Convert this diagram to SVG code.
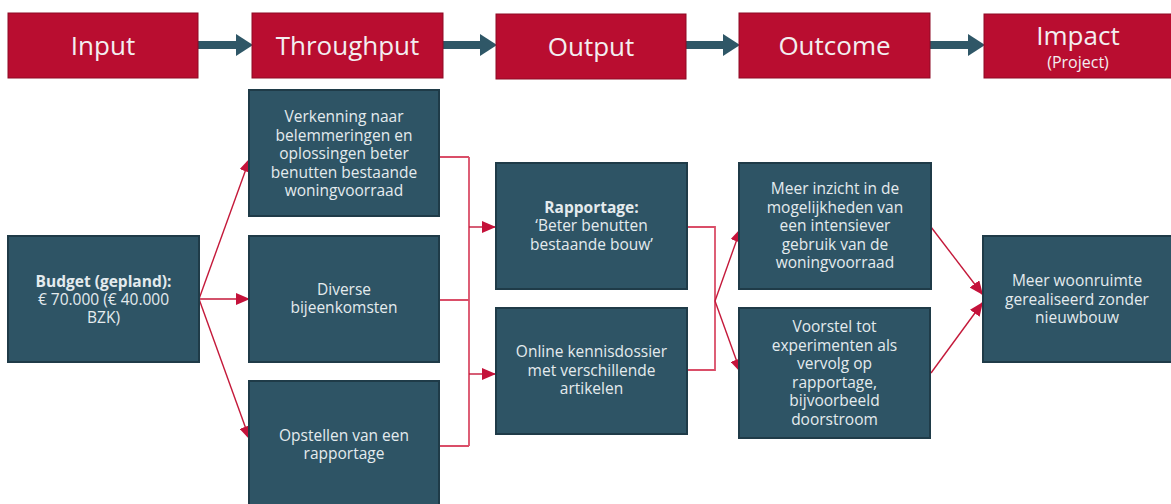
<svg xmlns="http://www.w3.org/2000/svg" width="1171" height="504" viewBox="0 0 1171 504">
<style>
.hdr{fill:#b90d30;stroke:#8e0a24;stroke-width:1}
.box{fill:#2e5465;stroke:#1f3b48;stroke-width:2}
.ht{font-family:"Open Sans","Liberation Sans",sans-serif;font-size:26px;fill:#f3eef0;text-anchor:middle}
.hs{font-family:"Open Sans","Liberation Sans",sans-serif;font-size:16px;fill:#f3eef0;text-anchor:middle}
.bt{font-family:"Open Sans","Liberation Sans",sans-serif;font-size:15.5px;fill:#e4ebee;text-anchor:middle}
.b{font-weight:bold}
.flow{stroke:#2f5767;stroke-width:8;fill:none}
.rl{stroke:#c4193a;stroke-width:1.4;fill:none}
.br{stroke:#da4e68;stroke-width:1.8;fill:none}
</style>
<defs>
<marker id="big" markerUnits="userSpaceOnUse" markerWidth="17" markerHeight="22" refX="0" refY="11" orient="auto">
<path d="M0,0 L17,11 L0,22 z" fill="#2f5767"/>
</marker>
<marker id="ah" markerUnits="userSpaceOnUse" markerWidth="14" markerHeight="12" refX="14" refY="6" orient="auto">
<path d="M0,0 L14,6 L0,12 z" fill="#c4123a"/>
</marker>
</defs>

<g id="connectors">
<path class="flow" d="M198,45 H236" marker-end="url(#big)"/>
<path class="flow" d="M443,45 H480" marker-end="url(#big)"/>
<path class="flow" d="M686,45 H723" marker-end="url(#big)"/>
<path class="flow" d="M930,45 H968" marker-end="url(#big)"/>

<path class="rl" d="M199,299 L250,158" marker-end="url(#ah)"/>
<path class="rl" d="M199,299 L250,299" marker-end="url(#ah)"/>
<path class="rl" d="M199,299 L250,440" marker-end="url(#ah)"/>

<path class="br" d="M439,157 H469 M439,300 H469 M439,446 H469 M469,157 V446"/>
<path class="rl" d="M469,227 H496" marker-end="url(#ah)"/>
<path class="rl" d="M469,374 H496" marker-end="url(#ah)"/>

<path class="br" d="M687,227 H715 V370 H687"/>
<path class="rl" d="M715,301 L741,228" marker-end="url(#ah)"/>
<path class="rl" d="M715,301 L741,373" marker-end="url(#ah)"/>

<path class="rl" d="M931,227 L983,295" marker-end="url(#ah)"/>
<path class="rl" d="M931,373 L983,302" marker-end="url(#ah)"/>
</g>

<g id="input"><rect class="hdr" x="8" y="13" width="190" height="65"/><text class="ht" x="103" y="55">Input</text></g>
<g id="throughput"><rect class="hdr" x="252" y="13" width="191" height="65"/><text class="ht" x="347.5" y="55">Throughput</text></g>
<g id="output"><rect class="hdr" x="496" y="14" width="190" height="65"/><text class="ht" x="591" y="56">Output</text></g>
<g id="outcome"><rect class="hdr" x="739" y="13" width="191" height="65"/><text class="ht" x="834.5" y="55">Outcome</text></g>
<g id="impact"><rect class="hdr" x="984" y="14" width="190" height="64"/><text class="ht" x="1078" y="45">Impact</text><text class="hs" x="1078" y="68">(Project)</text></g>

<g id="budget"><rect class="box" x="8" y="236" width="191" height="126"/>
<text class="bt" x="103.5"><tspan class="b" x="103.5" y="287">Budget (gepland):</tspan><tspan x="103.5" y="305">€ 70.000 (€ 40.000</tspan><tspan x="103.5" y="323">BZK)</tspan></text></g>

<g id="verkenning"><rect class="box" x="249" y="90" width="190" height="126"/>
<text class="bt"><tspan x="344" y="122">Verkenning naar</tspan><tspan x="344" y="140.5">belemmeringen en</tspan><tspan x="344" y="159">oplossingen beter</tspan><tspan x="344" y="177.5">benutten bestaande</tspan><tspan x="344" y="196">woningvoorraad</tspan></text></g>

<g id="diverse"><rect class="box" x="249" y="236" width="190" height="126"/>
<text class="bt"><tspan x="344" y="295">Diverse</tspan><tspan x="344" y="313">bijeenkomsten</tspan></text></g>

<g id="opstellen"><rect class="box" x="249" y="381" width="190" height="130"/>
<text class="bt"><tspan x="344" y="441">Opstellen van een</tspan><tspan x="344" y="459">rapportage</tspan></text></g>

<g id="rapportage"><rect class="box" x="496" y="163" width="191" height="126"/>
<text class="bt"><tspan class="b" x="591.5" y="213">Rapportage:</tspan><tspan x="591.5" y="231">‘Beter benutten</tspan><tspan x="591.5" y="249.5">bestaande bouw’</tspan></text></g>

<g id="online"><rect class="box" x="496" y="308" width="191" height="126"/>
<text class="bt"><tspan x="591.5" y="357">Online kennisdossier</tspan><tspan x="591.5" y="375.5">met verschillende</tspan><tspan x="591.5" y="394">artikelen</tspan></text></g>

<g id="inzicht"><rect class="box" x="739" y="163" width="192" height="126"/>
<text class="bt"><tspan x="835" y="194">Meer inzicht in de</tspan><tspan x="835" y="212.5">mogelijkheden van</tspan><tspan x="835" y="231">een intensiever</tspan><tspan x="835" y="249.5">gebruik van de</tspan><tspan x="835" y="268">woningvoorraad</tspan></text></g>

<g id="voorstel"><rect class="box" x="739" y="308" width="191" height="130"/>
<text class="bt"><tspan x="834.5" y="332">Voorstel tot</tspan><tspan x="834.5" y="350.5">experimenten als</tspan><tspan x="834.5" y="369">vervolg op</tspan><tspan x="834.5" y="387.5">rapportage,</tspan><tspan x="834.5" y="406">bijvoorbeeld</tspan><tspan x="834.5" y="424.5">doorstroom</tspan></text></g>

<g id="woonruimte"><rect class="box" x="983" y="236" width="192" height="126"/>
<text class="bt"><tspan x="1077" y="286">Meer woonruimte</tspan><tspan x="1077" y="304.5">gerealiseerd zonder</tspan><tspan x="1077" y="323">nieuwbouw</tspan></text></g>
</svg>
